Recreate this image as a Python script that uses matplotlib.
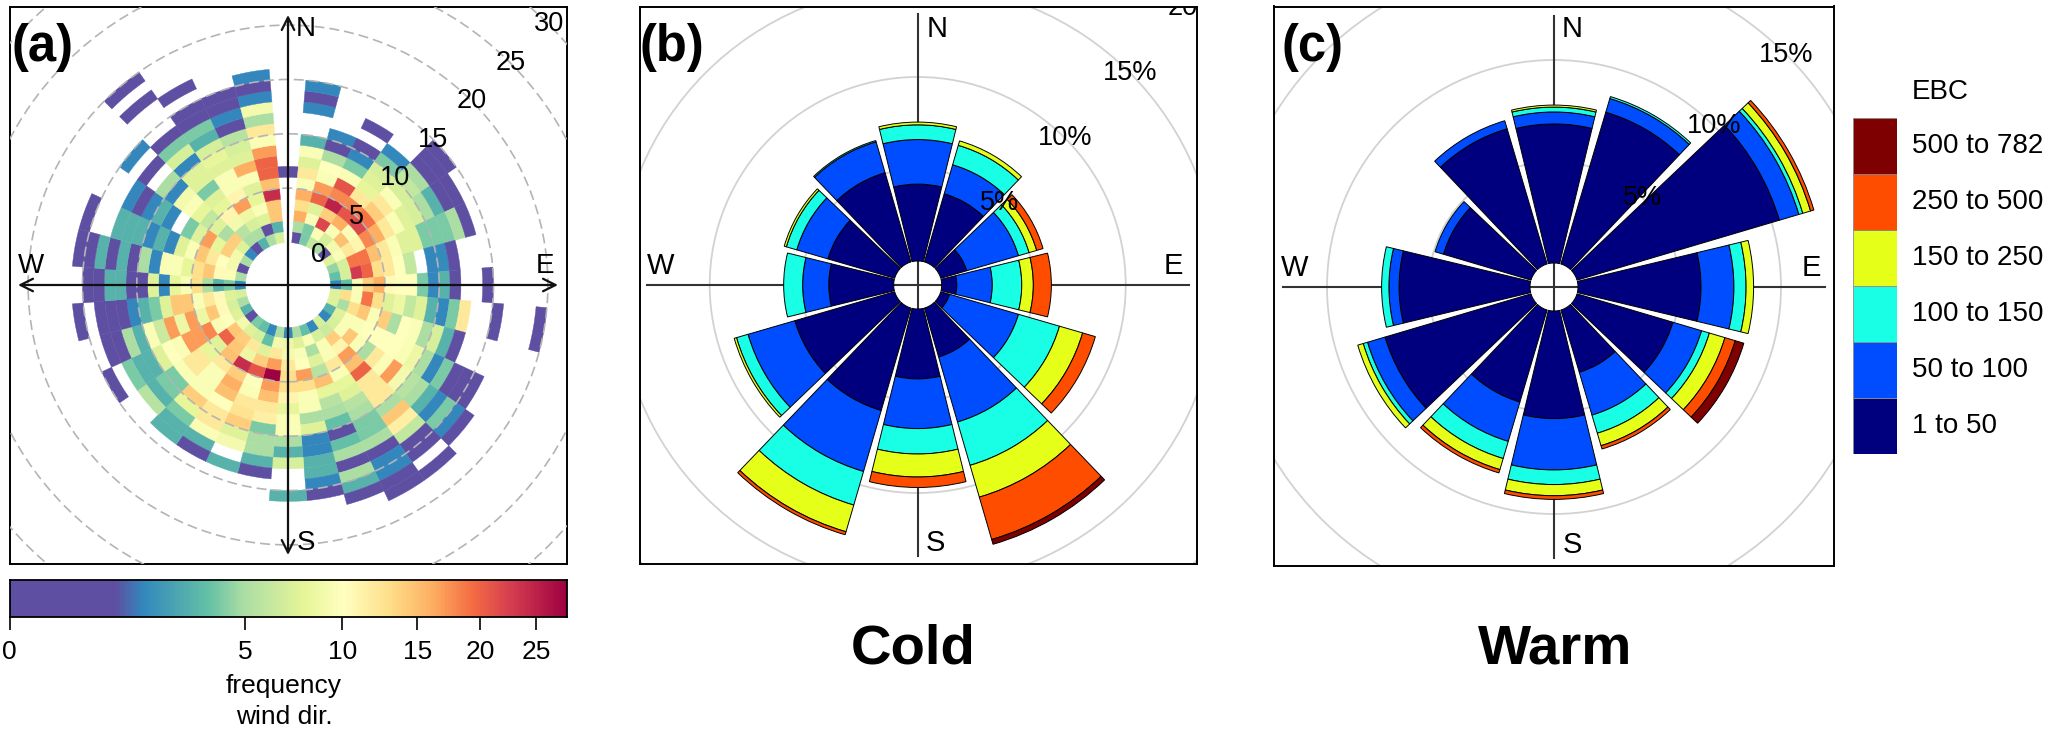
import numpy as np
import matplotlib
matplotlib.use('Agg')
import matplotlib.pyplot as plt
from matplotlib.patches import Wedge, Circle
from matplotlib.collections import PatchCollection
from matplotlib.colors import LinearSegmentedColormap, PowerNorm

plt.rcParams['font.family'] = ['Liberation Sans', 'DejaVu Sans']

W, H = 2067, 731

# (a) frequency per 10 degree direction (0, 10, ... 350), inner speed bin first, 0 = no data
freq_by_dir = [
    [0, 0, 0, 0, 0, 0, 1],
    [1, 5, 16, 13, 16, 9.5, 12, 7.5, 9.5, 3, 0, 0, 1.6, 1, 1.6],
    [4, 4, 9.5, 7.5, 20, 17, 9.5, 10, 5, 1, 1.6],
    [6, 9.5, 22, 14, 25, 18, 21, 9.5, 4, 1.6, 1, 0, 1],
    [5, 7, 9.5, 16, 21, 18, 12, 8, 7.5, 7, 4, 1.6],
    [1, 9, 15, 9.5, 22, 19, 14, 12, 9.5, 7, 6, 5, 1, 1, 1],
    [7.5, 9.5, 12, 11, 18, 16, 12, 9.5, 7.5, 7, 5, 3, 1, 1],
    [4.5, 7, 19, 19, 15, 12, 9.5, 7.5, 7.5, 4, 4, 4, 5, 1],
    [3.5, 7, 23, 20, 13, 12, 10, 6, 0, 1.6, 1.7, 1],
    [1.6, 3.5, 9.5, 14, 16, 10.5, 10, 10, 4, 1.6, 3, 1, 0, 0, 1],
    [7.5, 13, 9.5, 19, 13, 7.5, 8.5, 6, 7.5, 3, 1.6, 4, 12, 0, 0, 1, 0, 0, 0, 1],
    [7.5, 5, 13, 14.5, 9.5, 14, 5, 10, 9.5, 5, 7, 3, 1],
    [3, 7.5, 9.5, 9.5, 10, 10, 10, 10, 9.5, 8.5, 5, 1.6, 4, 1, 1, 1],
    [1.6, 7, 9.5, 14.5, 9.5, 5, 12, 9.5, 17, 9, 5.5, 5, 3, 1.6, 4, 1.6, 1],
    [7, 6.5, 14, 11, 17, 15, 20, 12, 12, 12, 5, 14.5, 11.5, 6, 1, 1, 0, 1],
    [1.6, 7, 9.5, 9.5, 12, 9.5, 8, 7.5, 5.5, 5, 4, 4, 5, 1, 1.6, 1.6, 1, 1],
    [3.5, 9.5, 5, 7.5, 5.5, 15, 8, 5.5, 5, 3.5, 1, 3.5, 5, 1, 5, 3, 1],
    [5, 7.5, 9.5, 10, 17, 13, 9.5, 9.5, 5, 7.5, 1.6, 1.6, 3, 3, 1.6, 1],
    [1.6, 8.5, 9, 12, 13, 13, 11, 8, 9.5, 9.5, 5, 3, 7, 0, 0, 3],
    [5, 9, 12, 17, 28, 17, 15, 12, 11.5, 4, 5, 5, 3, 1],
    [1.6, 3.5, 7.5, 14, 21, 10, 9.5, 12, 12.5, 14, 7.5, 9, 0, 3],
    [3.5, 7, 12, 8.5, 24, 14, 16, 15, 10, 12, 12, 9.5, 3, 1],
    [4, 7.5, 14, 14.5, 15, 12, 9.5, 9.5, 9.5, 14, 8, 4, 3, 3],
    [1, 9, 14.5, 20, 7.5, 8, 12, 12, 9.5, 4, 4, 3, 5.5],
    [3, 7.5, 10, 9.5, 18, 17, 17, 9.5, 10, 7.5, 3, 3, 4, 0, 1],
    [5, 7, 10.5, 14.5, 8.5, 17, 8.5, 17, 6.5, 9.5, 3, 5, 1, 1],
    [7, 7.5, 10.5, 12, 9.5, 14.5, 14.5, 7.5, 4, 3, 1.6, 1, 1, 1, 0, 1],
    [1.6, 4, 3, 5, 13, 9.5, 8, 1.6, 7.5, 1, 1, 3, 3, 1, 1],
    [5, 9.5, 10.5, 14.5, 13, 8, 9.5, 9.5, 1.6, 5, 1, 3, 1, 3, 1, 1],
    [1, 9, 10, 12, 14.5, 9.5, 7.5, 1.6, 3, 1.6, 3, 3, 3, 0, 0, 1],
    [5, 9, 14, 8, 17, 7.5, 4, 0, 1.6, 3, 1.6, 1, 1.6],
    [1.6, 7.5, 14, 5, 7.5, 6, 8, 9.5, 9, 1.6, 5, 0, 1, 0, 1.6],
    [1, 5, 5.5, 9, 11, 8, 7.5, 4, 7.5, 7.5, 1.6, 7, 4, 1, 0, 0, 0, 1, 0, 1],
    [3, 5, 7, 8.5, 17, 11, 9.5, 9.5, 7.5, 8, 7, 3, 4, 1, 1, 0, 1],
    [5, 1, 7.5, 9.5, 8, 7.5, 9.5, 16, 7.5, 7, 5.5, 1, 1.6, 1, 1],
    [7, 3, 14.5, 14.5, 24, 15, 20, 20, 17, 9.5, 12, 5, 9, 1.6, 1, 1.6],
]
freq_ticks = [0, 5, 10, 15, 20, 25]
speed_rings = [5, 10, 15, 20, 25, 30, 35]
freq_max = 28

# (b), (c) cumulative frequency (%) per 30 degree sector, lowest EBC class first
rose_dirs = [0, 30, 60, 90, 120, 150, 180, 210, 240, 270, 300, 330]
cold_cum = [
    [4.18, 6.6, 7.4, 7.55],
    [3.86, 5.5, 6.6, 6.85],
    [1.47, 4.4, 5.0, 5.43, 5.79],
    [0.82, 2.75, 4.35, 4.98, 5.96],
    [0.5, 4.4, 6.72, 8.03, 8.75],
    [2.77, 6.45, 8.9, 10.7, 13.1, 13.37],
    [3.8, 6.5, 7.88, 9.13, 9.7],
    [5.8, 9.25, 11.15, 12.66, 12.83],
    [5.65, 8.3, 8.95, 9.08],
    [3.53, 4.95, 5.98],
    [3.78, 5.54, 6.13, 6.25],
    [5.05, 6.8, 6.87],
]
warm_cum = [
    [6.85, 7.44, 7.68, 7.78],
    [7.8, 8.5, 8.6],
    [10.4, 11.4, 11.6, 12.0, 12.17],
    [6.06, 7.68, 8.28, 8.65],
    [4.93, 6.4, 6.8, 7.6, 8.13, 8.57],
    [3.2, 5.4, 6.33, 6.97, 7.14],
    [5.3, 7.83, 8.55, 9.1, 9.28],
    [4.73, 6.75, 7.63, 8.2, 8.37],
    [7.5, 8.4, 8.62, 8.9],
    [6.45, 6.95, 7.31],
    [4.5, 4.93],
    [6.95, 7.36],
]
ebc_labels = ['1 to 50', '50 to 100', '100 to 150', '150 to 250', '250 to 500', '500 to 782']
ebc_colors = ['#00007F', '#004DFF', '#19FFE6', '#E6FF19', '#FF4D00', '#7F0000']

# spectral scale as it runs along the colour bar (position is on the sqrt scale)
spec_pos = [0, 0.19, 0.24, 0.36, 0.42, 0.53, 0.60, 0.68, 0.76, 0.83, 0.90, 1]
spec_col = ['#5E4FA2', '#5E4FA2', '#3288BD', '#66C2A5', '#ABDDA4', '#E6F598', '#FFFFBF',
            '#FEE08B', '#FDAE61', '#F46D43', '#D53E4F', '#9E0142']
spectral = LinearSegmentedColormap.from_list('spec', list(zip(spec_pos, spec_col)), N=512)
norm = PowerNorm(0.5, vmin=0, vmax=freq_max)

fig = plt.figure(figsize=(W / 100, H / 100), dpi=100, facecolor='white')


def px_axes(x0, y0, x1, y1):
    return fig.add_axes([x0 / W, 1 - y1 / H, (x1 - x0) / W, (y1 - y0) / H])


def px_text(x, y, s, **kw):
    fig.text(x / W, 1 - y / H, s, **kw)


def rose_axes(box, cx, cy, scale):
    # data units: one unit = scale pixels, centre of the rose at 0, 0
    ax = px_axes(*box)
    ax.set_xlim((box[0] - cx) / scale, (box[2] - cx) / scale)
    ax.set_ylim((cy - box[3]) / scale, (cy - box[1]) / scale)
    ax.set_xticks([])
    ax.set_yticks([])
    for s in ax.spines.values():
        s.set_linewidth(1.4)
    return ax


def compass(ax, scale, offs, size):
    for s, (dx, dy) in zip('NSWE', offs):
        ax.text(dx / scale, dy / scale, s, fontsize=size, ha='center', va='center', zorder=6)


# panel a
box_a = (9.5, 6.5, 566.5, 563.5)
cx_a, cy_a, px_ws = 288, 285, 10.87
hole_a = 42.5 / px_ws
ax = rose_axes(box_a, cx_a, cy_a, px_ws)
patches, vals = [], []
for k, row in enumerate(freq_by_dir):
    d = k * 10
    for i, v in enumerate(row):
        if v > 0:
            patches.append(Wedge((0, 0), hole_a + i + 1, 90 - d - 5, 90 - d + 5, width=1))
            vals.append(v)
pc = PatchCollection(patches, cmap=spectral, norm=norm, edgecolor='face', linewidth=0.3, zorder=2)
pc.set_array(np.array(vals))
ax.add_collection(pc)
for ws in speed_rings:
    ax.add_patch(Circle((0, 0), hole_a + ws, fill=False, ec='#B4B4B4', lw=1.2, ls=(0, (6, 3)), zorder=3))
reach = 270 / px_ws
arrow = dict(arrowstyle='<->,head_length=0.9,head_width=0.45', lw=1.6, color='#111111', shrinkA=0, shrinkB=0)
ax.annotate('', xy=(reach, 0), xytext=(-reach, 0), arrowprops=arrow, zorder=4)
ax.annotate('', xy=(0, reach), xytext=(0, -reach), arrowprops=arrow, zorder=4)
compass(ax, px_ws, [(18, 256), (18, -258), (-257, 19), (257, 19)], 20)
for ws in [0, 5, 10, 15, 20, 25, 30]:
    p = (hole_a + ws) * np.sqrt(0.5)
    ax.text(p, p, str(ws), fontsize=19.5, ha='center', va='center', zorder=6)

# colour bar
cax = px_axes(9.5, 580, 566.5, 617)
grid = np.linspace(0, np.sqrt(freq_max), 400) ** 2
cax.pcolormesh(grid, [0, 1], grid[:-1][None, :] + np.diff(grid)[None, :] / 2, cmap=spectral, norm=norm, rasterized=True)
cax.set_xscale('function', functions=(np.sqrt, np.square))
cax.set_xlim(0, freq_max)
cax.set_yticks([])
cax.set_xticks(freq_ticks)
cax.set_xticks([], minor=True)
cax.set_xticklabels([str(t) for t in freq_ticks], fontsize=19)
cax.tick_params(axis='x', length=9.5, width=1.2, pad=7)
for s in cax.spines.values():
    s.set_linewidth(1.3)
px_text(284, 686, 'frequency', fontsize=19, ha='center', va='center')
px_text(284, 717, 'wind dir.', fontsize=19, ha='center', va='center')


def wind_rose(box, cx, cy, hole, scale, half, cum, rings):
    ax = rose_axes(box, cx, cy, scale)
    off = hole / scale
    for p in rings:
        ax.add_patch(Circle((0, 0), off + p, fill=False, ec='#D2D2D2', lw=1.3, zorder=1))
    reach = 271 / scale
    ax.plot([-reach, reach], [0, 0], color='#333333', lw=1.5, zorder=2)
    ax.plot([0, 0], [-reach, reach], color='#333333', lw=1.5, zorder=2)
    for d, levels in zip(rose_dirs, cum):
        inner = 0
        for j in range(len(levels)):
            ax.add_patch(Wedge((0, 0), off + levels[j], 90 - d - half, 90 - d + half,
                               width=levels[j] - inner, fc=ebc_colors[j], ec='black', lw=0.7, zorder=3))
            inner = levels[j]
    return ax, off


# panel b
ax, off = wind_rose((639.5, 6.5, 1196.5, 563.5), 917.7, 285, 24, 18.4, 13.8, cold_cum, [5, 10, 15, 20])
compass(ax, 18.4, [(19, 256), (18, -258), (-257, 19), (256, 19)], 21)
for p, lab in zip([5, 10, 15, 20], ['5%', '10%', '15%', '20%']):
    q = (off + p) * np.sqrt(0.5)
    ax.text(q, q, lab, fontsize=19.5, ha='center', va='center', zorder=6, clip_on=True)

# panel c
ax, off = wind_rose((1274, 6.5, 1833.5, 566), 1554, 287, 24, 20.3, 13.5, warm_cum, [5, 10, 15])
compass(ax, 20.3, [(18, 258), (18, -258), (-259, 19), (257, 19)], 21)
for p, lab in zip([5, 10, 15], ['5%', '10%', '15%']):
    q = (off + p) * np.sqrt(0.5)
    ax.text(q, q, lab, fontsize=19.5, ha='center', va='center', zorder=6)

# EBC key
kax = px_axes(1853, 118, 1897, 454)
kax.bar(0, [1] * 6, bottom=range(6), width=1, color=ebc_colors, edgecolor='#8A8A8A', linewidth=0.6)
kax.set_xlim(-0.5, 0.5)
kax.set_ylim(0, 6)
kax.axis('off')
for i, lab in enumerate(ebc_labels):
    px_text(1912, 454 - 56 * (i + 0.5), lab, fontsize=20, ha='left', va='center')
px_text(1912, 92, 'EBC', fontsize=20, ha='left', va='center')

# panel tags and season titles
px_text(12, 48, '(a)', fontsize=36.5, fontweight='bold', ha='left', va='center')
px_text(640, 48, '(b)', fontsize=36.5, fontweight='bold', ha='left', va='center')
px_text(1281, 48, '(c)', fontsize=36.5, fontweight='bold', ha='left', va='center')
px_text(913, 650, 'Cold', fontsize=40.5, fontweight='bold', ha='center', va='center')
px_text(1555, 650, 'Warm', fontsize=40.5, fontweight='bold', ha='center', va='center')

fig.savefig('out.png', dpi=100)
